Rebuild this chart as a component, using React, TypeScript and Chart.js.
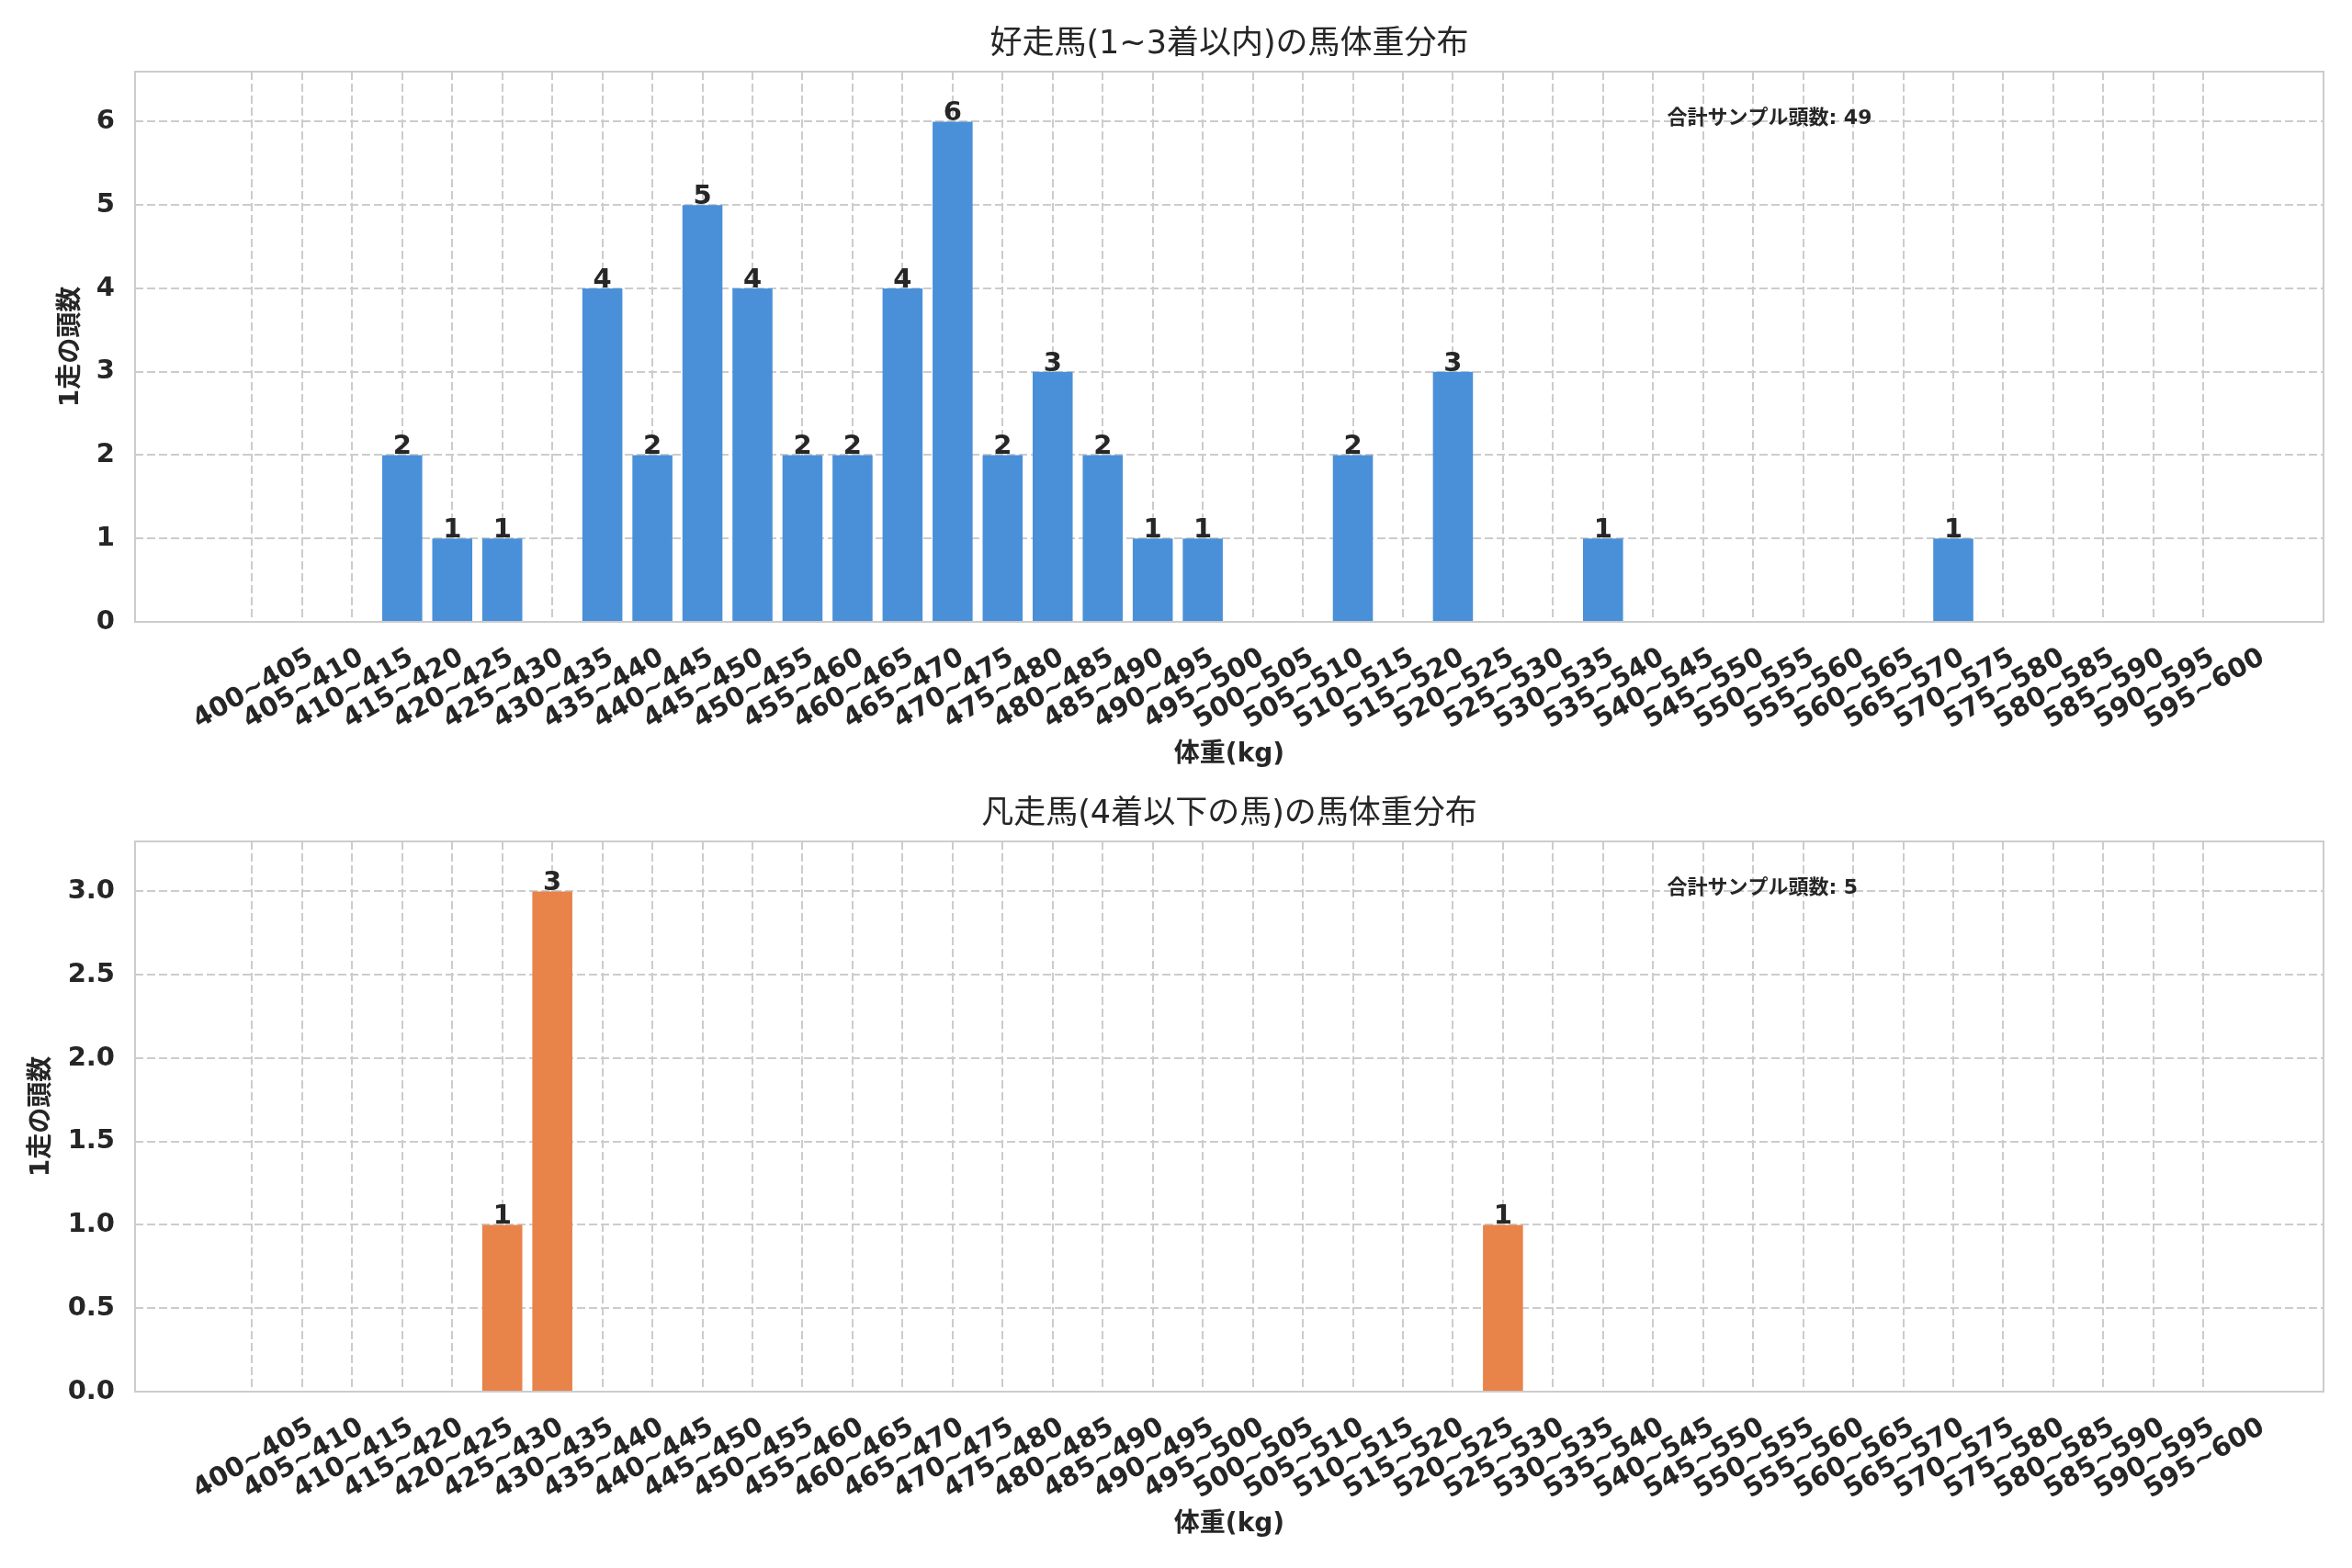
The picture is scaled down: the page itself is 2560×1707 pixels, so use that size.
import React, { useEffect, useRef } from "react";
import { Chart, registerables } from "chart.js";

Chart.register(...registerables);

const FONT = '"DejaVu Sans", "Noto Sans CJK JP", sans-serif';
const TEXT = "#262626";
const GRID = "#cccccc";

const categories = [
  "400~405", "405~410", "410~415", "415~420", "420~425", "425~430", "430~435", "435~440",
  "440~445", "445~450", "450~455", "455~460", "460~465", "465~470", "470~475", "475~480",
  "480~485", "485~490", "490~495", "495~500", "500~505", "505~510", "510~515", "515~520",
  "520~525", "525~530", "530~535", "535~540", "540~545", "545~550", "550~555", "555~560",
  "560~565", "565~570", "570~575", "575~580", "580~585", "585~590", "590~595", "595~600",
];

const topCounts = [
  0, 0, 0, 2, 1, 1, 0, 4, 2, 5, 4, 2, 2, 4, 6, 2, 3, 2, 1, 1,
  0, 0, 2, 0, 3, 0, 0, 1, 0, 0, 0, 0, 0, 0, 1, 0, 0, 0, 0, 0,
];

const bottomCounts = [
  0, 0, 0, 0, 0, 1, 3, 0, 0, 0, 0, 0, 0, 0, 0, 0, 0, 0, 0, 0,
  0, 0, 0, 0, 0, 1, 0, 0, 0, 0, 0, 0, 0, 0, 0, 0, 0, 0, 0, 0,
];

const topYTicks = [0, 1, 2, 3, 4, 5, 6];
const bottomYTicks = [0, 0.5, 1.0, 1.5, 2.0, 2.5, 3.0];

const topTitle = "好走馬(1~3着以内)の馬体重分布";
const bottomTitle = "凡走馬(4着以下の馬)の馬体重分布";
const xAxisTitle = "体重(kg)";
const yAxisTitle = "1走の頭数";
const annotationLabel = "合計サンプル頭数";

interface PanelCfg {
  values: number[];
  yTicks: number[];
  yMax: number;
  decimals: number;
  color: string;
  title: string;
  height: number;
  padTop: number;
  xAxisH: number;
  yTitleX: number;
}

const TICK_SIZE = 29;

function Panel({ cfg }: { cfg: PanelCfg }) {
  const ref = useRef<HTMLCanvasElement | null>(null);

  useEffect(() => {
    if (!ref.current) return;
    const total = cfg.values.reduce((a, b) => a + b, 0);
    const decor = {
      id: "decor",
      afterDraw(chart: any) {
        const { ctx, chartArea: a, scales } = chart;
        ctx.save();
        // spines
        ctx.strokeStyle = GRID;
        ctx.lineWidth = 2;
        ctx.setLineDash([]);
        ctx.strokeRect(a.left, a.top, a.right - a.left, a.bottom - a.top);

        // value labels
        const meta = chart.getDatasetMeta(0);
        ctx.fillStyle = TEXT;
        ctx.font = `bold ${TICK_SIZE}px ${FONT}`;
        ctx.textAlign = "center";
        ctx.textBaseline = "alphabetic";
        meta.data.forEach((el: any, i: number) => {
          const v = cfg.values[i];
          if (v > 0) ctx.fillText(String(v), el.x, el.y - 1);
        });

        // x tick labels (rotated 30deg, centered on tick)
        ctx.font = `bold ${TICK_SIZE}px ${FONT}`;
        const inkH = TICK_SIZE * 0.73;
        categories.forEach((lab, i) => {
          const x = scales.x.getPixelForValue(i);
          const w = ctx.measureText(lab).width;
          const bboxH = w * 0.5 + inkH * 0.866;
          const cy = a.bottom + 25 + bboxH / 2;
          ctx.save();
          ctx.translate(x, cy);
          ctx.rotate(-Math.PI / 6);
          ctx.textAlign = "center";
          ctx.textBaseline = "alphabetic";
          ctx.fillText(lab, 0, inkH / 2);
          ctx.restore();
        });

        const midX = (a.left + a.right) / 2;
        const midY = (a.top + a.bottom) / 2;

        // title
        ctx.font = `35px ${FONT}`;
        ctx.textAlign = "center";
        ctx.textBaseline = "middle";
        ctx.fillText(cfg.title, midX, a.top - 29);

        // x axis title
        ctx.font = `bold 28px ${FONT}`;
        ctx.fillText(xAxisTitle, midX, a.bottom + 145);

        // y axis title
        ctx.save();
        ctx.translate(cfg.yTitleX, midY);
        ctx.rotate(-Math.PI / 2);
        ctx.font = `bold 28px ${FONT}`;
        ctx.textAlign = "center";
        ctx.textBaseline = "middle";
        ctx.fillText(yAxisTitle, 0, 0);
        ctx.restore();

        // annotation
        ctx.font = `bold 22px ${FONT}`;
        ctx.textAlign = "left";
        ctx.textBaseline = "middle";
        ctx.fillText(`${annotationLabel}: ${total}`, a.left + 0.7 * (a.right - a.left), a.top + 51);

        ctx.restore();
      },
    };

    const chart = new Chart(ref.current, {
      type: "bar",
      data: {
        datasets: [
          {
            data: cfg.values.map((v, i) => ({ x: i, y: v })),
            backgroundColor: cfg.color,
            borderWidth: 0,
            barPercentage: 0.8,
            categoryPercentage: 1.0,
          } as any,
        ],
      },
      options: {
        animation: false,
        responsive: false,
        devicePixelRatio: 1,
        layout: { padding: { left: 0, right: 31, top: cfg.padTop, bottom: 0 } },
        plugins: {
          legend: { display: false },
          tooltip: { enabled: false },
          title: { display: false },
        },
        scales: {
          x: {
            type: "linear",
            min: -2.34,
            max: 41.4,
            offset: false,
            afterBuildTicks: (s: any) => {
              s.ticks = categories.map((_, i) => ({ value: i }));
            },
            afterFit: (s: any) => {
              s.height = cfg.xAxisH;
            },
            ticks: { display: false },
            grid: { color: GRID, lineWidth: 2, drawTicks: false, offset: false },
            border: { display: false, dash: [9, 4] },
          },
          y: {
            type: "linear",
            min: 0,
            max: cfg.yMax,
            afterBuildTicks: (s: any) => {
              s.ticks = cfg.yTicks.map((v) => ({ value: v }));
            },
            afterFit: (s: any) => {
              s.width = 147;
            },
            ticks: {
              color: TEXT,
              padding: 22,
              font: { family: FONT, size: TICK_SIZE, weight: "bold" },
              callback: (v: any) => Number(v).toFixed(cfg.decimals),
            },
            grid: { color: GRID, lineWidth: 2, drawTicks: false },
            border: { display: false, dash: [9, 4] },
          },
        },
      } as any,
      plugins: [decor],
    });
    return () => chart.destroy();
  }, [cfg]);

  return (
    <canvas
      ref={ref}
      width={2560}
      height={cfg.height}
      style={{ display: "block", width: 2560, height: cfg.height }}
    />
  );
}

const topCfg: PanelCfg = {
  values: topCounts,
  yTicks: topYTicks,
  yMax: 6.6,
  decimals: 0,
  color: "#4A90D9",
  title: topTitle,
  height: 853,
  padTop: 78,
  xAxisH: 176,
  yTitleX: 78,
};

const bottomCfg: PanelCfg = {
  values: bottomCounts,
  yTicks: bottomYTicks,
  yMax: 3.3,
  decimals: 1,
  color: "#E8834A",
  title: bottomTitle,
  height: 854,
  padTop: 63,
  xAxisH: 192,
  yTitleX: 46,
};

export default function App() {
  useEffect(() => {
    document.body.style.margin = "0";
    document.body.style.background = "#ffffff";
  }, []);
  return (
    <div style={{ width: 2560, height: 1707, background: "#ffffff" }}>
      <Panel cfg={topCfg} />
      <Panel cfg={bottomCfg} />
    </div>
  );
}
